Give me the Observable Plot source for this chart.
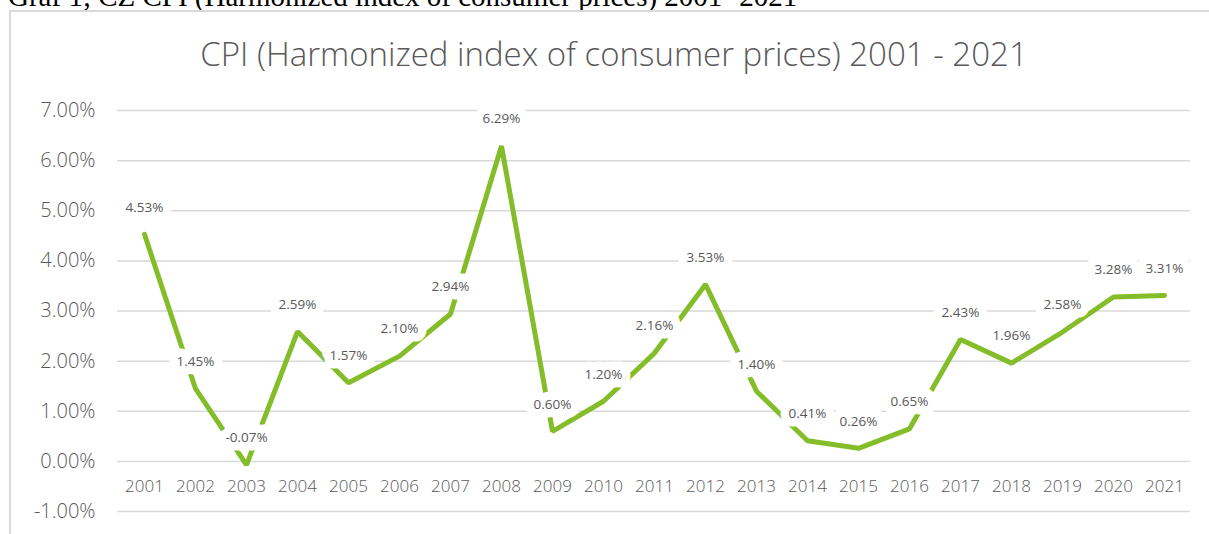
<!DOCTYPE html>
<html>
<head>
<meta charset="utf-8">
<script src="https://cdn.jsdelivr.net/npm/d3@7"></script>
<script src="https://cdn.jsdelivr.net/npm/@observablehq/plot@0.6"></script>
<style>
  html, body { margin: 0; padding: 0; background: #fff; overflow: hidden; }
  body { width: 1209px; height: 534px; position: relative; }
  #caption { position: absolute; left: 8px; top: -18px; font-family: "Liberation Serif", "Times New Roman", serif; font-size: 29px; line-height: 29px; color: #000; white-space: nowrap; }
  #box { position: absolute; left: 9px; top: 10px; width: 1210px; height: 540px; border: 2px solid #d9d9d9; box-sizing: border-box; }
  #title { position: absolute; left: 0; width: 1228px; top: 37px; text-align: center; font-family: "Open Sans", sans-serif; font-weight: 300; font-size: 33px; line-height: 33px; color: #595959; white-space: nowrap; }
  #chart { position: absolute; left: 0; top: 0; }
</style>
</head>
<body>
<div id="caption">Graf 1; CZ CPI (Harmonized index of consumer prices) 2001- 2021</div>
<div id="box"></div>
<div id="title">CPI (Harmonized index of consumer prices) 2001 - 2021</div>
<div id="chart"></div>
<script>
const years = ["2001","2002","2003","2004","2005","2006","2007","2008","2009","2010","2011","2012","2013","2014","2015","2016","2017","2018","2019","2020","2021"];
const cpi = [4.53, 1.45, -0.07, 2.59, 1.57, 2.10, 2.94, 6.29, 0.60, 1.20, 2.16, 3.53, 1.40, 0.41, 0.26, 0.65, 2.43, 1.96, 2.58, 3.28, 3.31];
const yTicks = [-1, 0, 1, 2, 3, 4, 5, 6, 7];

const data = years.map((y, i) => ({year: y, value: cpi[i]}));
const font = "'Open Sans', sans-serif";

const chart = Plot.plot({
  width: 1209,
  height: 534,
  marginLeft: 117,
  marginRight: 19,
  marginTop: 110,
  marginBottom: 23,
  style: {fontFamily: font, background: "transparent", overflow: "visible"},
  x: {type: "point", domain: years, padding: 0.5, axis: null},
  y: {domain: [-1, 7], axis: null},
  marks: [
    Plot.ruleY(yTicks, {stroke: "#d9d9d9", strokeWidth: 1.5}),
    Plot.text(yTicks, {
      x: () => years[0], y: d => d, text: d => d.toFixed(2) + "%",
      textAnchor: "end", dx: -49, fill: "#595959", fontSize: 20, fontWeight: 300
    }),
    Plot.text(years, {
      x: d => d, y: () => 0, text: d => d, dy: 25,
      fill: "#595959", fontSize: 17, fontWeight: 300
    }),
    Plot.line(data, {
      x: "year", y: "value", stroke: "#84bd2a", strokeWidth: 5,
      strokeLinecap: "round", strokeLinejoin: "miter"
    }),
    Plot.text(data, {
      x: "year", y: "value", text: d => d.value.toFixed(2) + "%", dy: -27,
      fill: "#595959", fontSize: 13.5, stroke: "white", strokeWidth: 17,
      strokeLinejoin: "round", paintOrder: "stroke"
    })
  ]
});
document.getElementById("chart").appendChild(chart);
</script>
</body>
</html>
